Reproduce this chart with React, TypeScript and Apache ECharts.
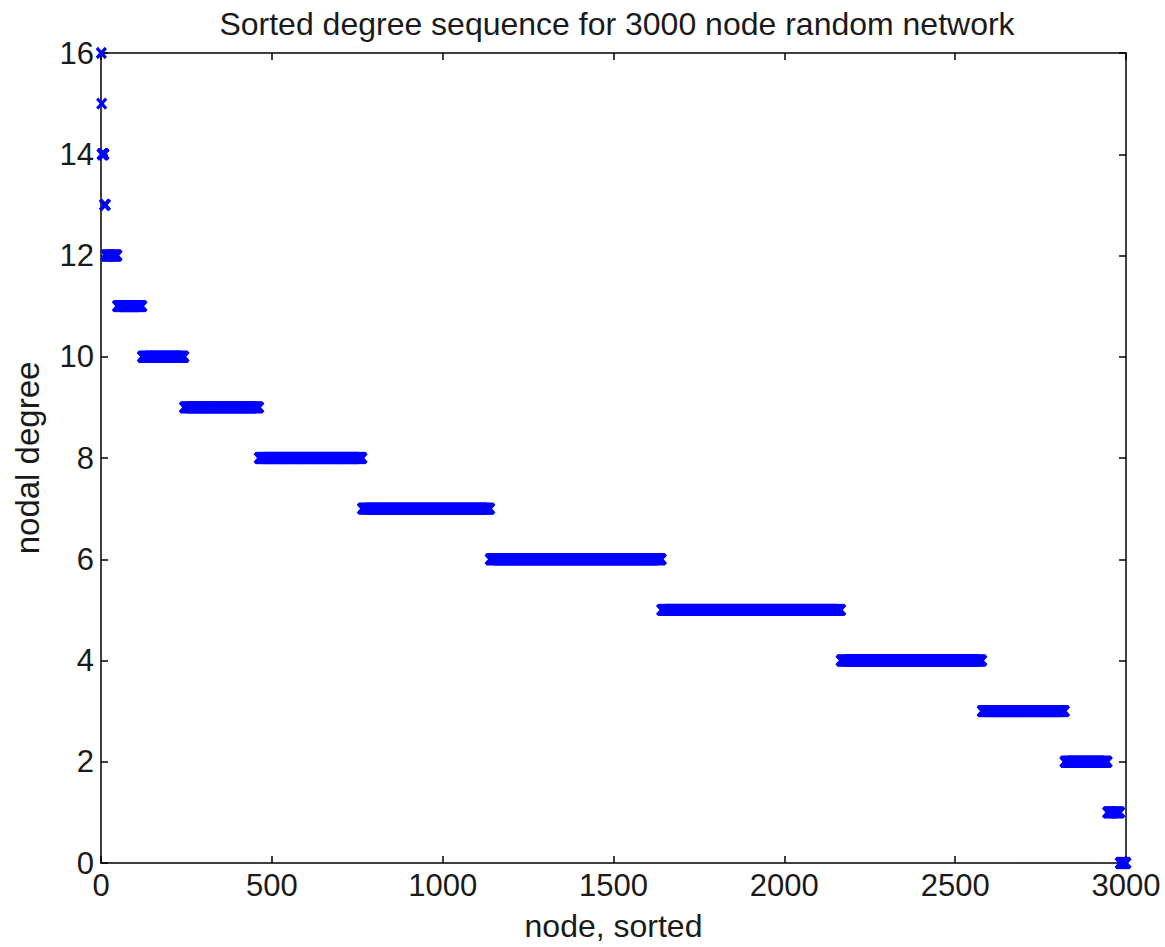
import React, { useEffect, useRef } from "react";
import * as echarts from "echarts";

// Degree levels (descending) and how many nodes have each degree
const degrees = [16, 15, 14, 13, 12, 11, 10, 9, 8, 7, 6, 5, 4, 3, 2, 1, 0];
const counts = [1, 1, 7, 4, 34, 73, 123, 219, 302, 374, 502, 525, 413, 242, 125, 37, 18];
const xTicks = [0, 500, 1000, 1500, 2000, 2500, 3000];
const yTicks = [0, 2, 4, 6, 8, 10, 12, 14, 16];

const FONT = "'Liberation Sans', Arial, Helvetica, sans-serif";
const TXT = "#1a1a1a";

export default function App() {
  const ref = useRef<HTMLDivElement>(null);
  useEffect(() => {
    if (!ref.current) return;
    const chart = echarts.init(ref.current, null, { renderer: "svg" });
    const points: number[][] = [];
    let node = 1;
    degrees.forEach((d, i) => {
      for (let k = 0; k < counts[i]; k++) {
        points.push([node, d]);
        node++;
      }
    });
    const axisLine = { show: true, onZero: false, lineStyle: { color: "#000", width: 1.5 } };
    const axisTick = { show: true, inside: true, length: 7, lineStyle: { color: "#000", width: 1.5 } };
    chart.setOption({
      animation: false,
      backgroundColor: "#fff",
      title: {
        text: "Sorted degree sequence for 3000 node random network",
        left: 612,
        top: 3,
        textAlign: "center",
        textStyle: { fontFamily: FONT, fontSize: 32, fontWeight: "normal", color: TXT },
      },
      grid: { left: 101, right: 39, top: 53, bottom: 83, containLabel: false },
      xAxis: [
        {
          type: "value",
          min: xTicks[0],
          max: xTicks[xTicks.length - 1],
          interval: 500,
          position: "bottom",
          axisLine,
          axisTick,
          splitLine: { show: false },
          axisLabel: {
            fontFamily: FONT,
            fontSize: 31,
            color: TXT,
            margin: 7,
            formatter: (v: number) => String(v),
          },
          name: "node, sorted",
          nameLocation: "middle",
          nameGap: 47,
          nameTextStyle: { fontFamily: FONT, fontSize: 32, color: TXT },
        },
        {
          type: "value",
          min: xTicks[0],
          max: xTicks[xTicks.length - 1],
          interval: 500,
          position: "top",
          axisLine,
          axisTick,
          splitLine: { show: false },
          axisLabel: { show: false },
        },
      ],
      yAxis: [
        {
          type: "value",
          min: yTicks[0],
          max: yTicks[yTicks.length - 1],
          interval: 2,
          position: "left",
          axisLine,
          axisTick,
          splitLine: { show: false },
          axisLabel: { fontFamily: FONT, fontSize: 31, color: TXT, margin: 7 },
          name: "nodal degree",
          nameLocation: "middle",
          nameGap: 57,
          nameTextStyle: { fontFamily: FONT, fontSize: 33, color: TXT },
        },
        {
          type: "value",
          min: yTicks[0],
          max: yTicks[yTicks.length - 1],
          interval: 2,
          position: "right",
          axisLine,
          axisTick,
          splitLine: { show: false },
          axisLabel: { show: false },
        },
      ],
      series: [
        {
          type: "scatter",
          xAxisIndex: 0,
          yAxisIndex: 0,
          data: points,
          symbol: "path://M0,0L10,10M0,10L10,0",
          symbolSize: [9, 10],
          clip: false,
          itemStyle: { color: "#0000ff", borderColor: "#0000ff", borderWidth: 3.2, opacity: 1 },
          emphasis: { disabled: true },
          z: 3,
        },
      ],
    });
    return () => chart.dispose();
  }, []);
  return (
    <div
      ref={ref}
      style={{ position: "fixed", left: 0, top: 0, width: 1165, height: 947, background: "#fff" }}
    />
  );
}
